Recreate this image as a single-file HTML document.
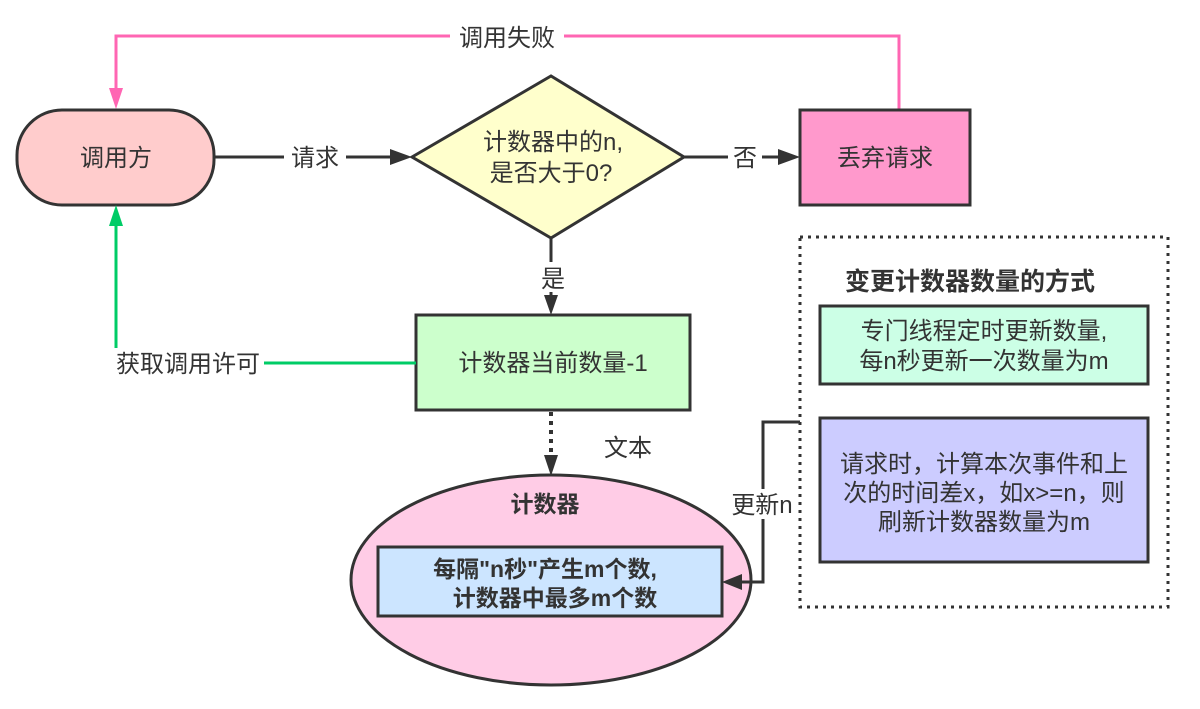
<!DOCTYPE html>
<html><head><meta charset="utf-8"><style>
html,body{margin:0;padding:0;background:#fff;width:1200px;height:709px;overflow:hidden}
svg text{font-family:"Liberation Sans","Noto Sans CJK SC",sans-serif;fill:#333;font-size:24px}
</style></head><body>
<svg width="1200" height="709" viewBox="0 0 1200 709" xmlns="http://www.w3.org/2000/svg">
<polyline points="899,110 899,36 116,36 116,95" fill="none" stroke="#ff66b3" stroke-width="3"/>
<path d="M109,88 L123,88 L116,109 z" fill="#ff66b3"/>
<rect x="450" y="22" width="114" height="30" fill="#fff"/>
<text x="507" y="46" text-anchor="middle">调用失败</text>
<rect x="17" y="110" width="197" height="95" rx="45" fill="#ffcccc" stroke="#333" stroke-width="3"/>
<text x="116" y="166" text-anchor="middle">调用方</text>
<line x1="214" y1="157" x2="395" y2="157" stroke="#333" stroke-width="3"/>
<path d="M390,149 L412,157 L390,165 z" fill="#333"/>
<rect x="284" y="142" width="62" height="30" fill="#fff"/>
<text x="315" y="166" text-anchor="middle">请求</text>
<polygon points="412,157 551,76 684,157 551,238" fill="#ffffcc" stroke="#333" stroke-width="3"/>
<text x="553" y="150" text-anchor="middle">计数器中的n,</text>
<text x="551" y="181" text-anchor="middle">是否大于0?</text>
<line x1="684" y1="157" x2="785" y2="157" stroke="#333" stroke-width="3"/>
<path d="M778,149 L800,157 L778,165 z" fill="#333"/>
<rect x="728" y="142" width="34" height="30" fill="#fff"/>
<text x="745" y="166" text-anchor="middle">否</text>
<rect x="800" y="110" width="170" height="95" fill="#ff99cc" stroke="#333" stroke-width="3"/>
<text x="885" y="166" text-anchor="middle">丢弃请求</text>
<line x1="551" y1="238" x2="551" y2="300" stroke="#333" stroke-width="3"/>
<path d="M544,295 L558,295 L551,315 z" fill="#333"/>
<rect x="536" y="262" width="34" height="30" fill="#fff"/>
<text x="553" y="287" text-anchor="middle">是</text>
<rect x="416" y="315" width="274" height="95" fill="#ccffcc" stroke="#333" stroke-width="3"/>
<text x="553" y="371" text-anchor="middle">计数器当前数量-1</text>
<polyline points="416,363 116,363 116,220" fill="none" stroke="#00cc66" stroke-width="3"/>
<path d="M109,226 L123,226 L116,205 z" fill="#00cc66"/>
<rect x="112" y="348" width="152" height="30" fill="#fff"/>
<text x="188" y="372" text-anchor="middle">获取调用许可</text>
<line x1="551" y1="412" x2="551" y2="458" stroke="#333" stroke-width="4" stroke-dasharray="4,5"/>
<path d="M544,455 L558,455 L551,476 z" fill="#333"/>
<text x="628" y="456" text-anchor="middle">文本</text>
<ellipse cx="551" cy="580" rx="200" ry="105" fill="#ffcce6" stroke="#333" stroke-width="3"/>
<text x="545" y="512" text-anchor="middle" font-weight="bold" style="font-size:23px">计数器</text>
<rect x="378" y="547" width="344" height="69" fill="#cce5ff" stroke="#333" stroke-width="3"/>
<text x="545" y="577" text-anchor="middle" font-weight="bold" style="font-size:23px">每隔"n秒"产生m个数,</text>
<text x="555" y="606" text-anchor="middle" font-weight="bold" style="font-size:23px">计数器中最多m个数</text>
<rect x="800" y="237" width="368" height="370" fill="none" stroke="#333" stroke-width="3" stroke-dasharray="3,5"/>
<text x="970" y="290" text-anchor="middle" font-weight="bold" style="font-size:25px">变更计数器数量的方式</text>
<rect x="820" y="306" width="328" height="78" fill="#ccffe6" stroke="#333" stroke-width="3"/>
<text x="984" y="339" text-anchor="middle">专门线程定时更新数量,</text>
<text x="984" y="369" text-anchor="middle">每n秒更新一次数量为m</text>
<rect x="820" y="418" width="328" height="144" fill="#ccccff" stroke="#333" stroke-width="3"/>
<text x="984" y="472" text-anchor="middle">请求时，计算本次事件和上</text>
<text x="984" y="501" text-anchor="middle">次的时间差x，如x>=n，则</text>
<text x="984" y="530" text-anchor="middle">刷新计数器数量为m</text>
<polyline points="800,422 763,422 763,582 738,582" fill="none" stroke="#333" stroke-width="3"/>
<path d="M742,574 L722,582 L742,590 z" fill="#333"/>
<rect x="726" y="489" width="72" height="30" fill="#fff"/>
<text x="762" y="513" text-anchor="middle">更新n</text>
</svg>
</body></html>
